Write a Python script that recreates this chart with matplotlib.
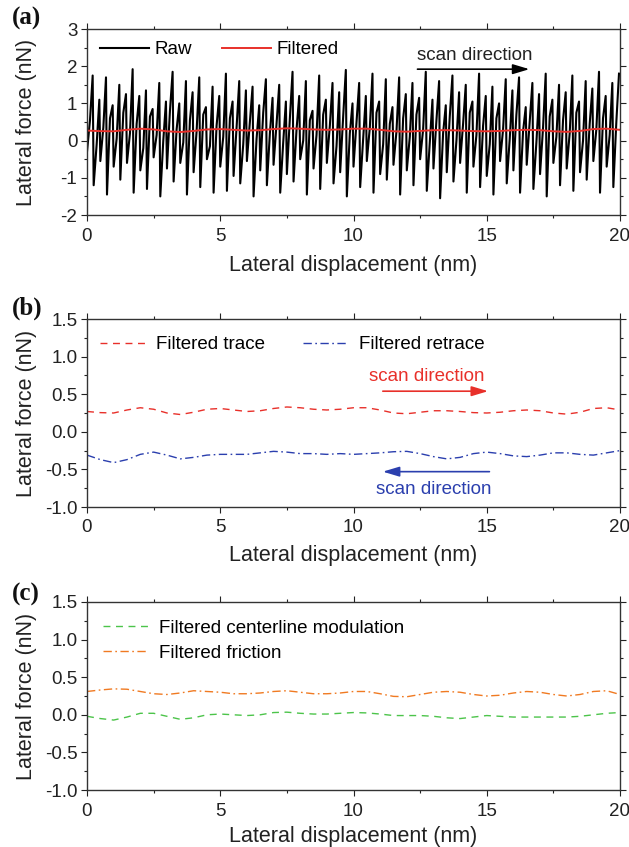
import matplotlib
matplotlib.use("Agg")
import matplotlib.pyplot as plt
import numpy as np
from matplotlib.ticker import MultipleLocator

plt.rcParams['font.family'] = ['Liberation Sans', 'DejaVu Sans']

# ---------------- data ----------------
x_filt = [0.0, 0.5, 1.0, 1.5, 2.0, 2.5, 3.0, 3.5, 4.0, 4.5, 5.0, 5.5, 6.0, 6.5, 7.0, 7.5, 8.0, 8.5, 9.0, 9.5,
          10.0, 10.5, 11.0, 11.5, 12.0, 12.5, 13.0, 13.5, 14.0, 14.5, 15.0, 15.5, 16.0, 16.5, 17.0, 17.5,
          18.0, 18.5, 19.0, 19.5, 20.0]

filtered_trace = [0.27, 0.255, 0.25, 0.29, 0.32, 0.30, 0.25, 0.23, 0.26, 0.30, 0.31, 0.29, 0.27, 0.28, 0.31,
                  0.33, 0.32, 0.30, 0.29, 0.30, 0.32, 0.32, 0.29, 0.25, 0.24, 0.26, 0.28, 0.28, 0.27, 0.255,
                  0.25, 0.26, 0.28, 0.29, 0.28, 0.25, 0.235, 0.26, 0.31, 0.32, 0.29]

filtered_retrace = [-0.31, -0.37, -0.41, -0.37, -0.30, -0.27, -0.31, -0.36, -0.34, -0.31, -0.30, -0.30, -0.30,
                    -0.28, -0.26, -0.27, -0.29, -0.29, -0.30, -0.29, -0.30, -0.29, -0.28, -0.265, -0.26, -0.29,
                    -0.33, -0.36, -0.34, -0.29, -0.27, -0.29, -0.32, -0.33, -0.31, -0.28, -0.28, -0.30, -0.31,
                    -0.28, -0.25]

filtered_friction = [0.31, 0.33, 0.345, 0.34, 0.31, 0.28, 0.27, 0.29, 0.32, 0.31, 0.30, 0.28, 0.28, 0.29, 0.31,
                     0.32, 0.30, 0.28, 0.28, 0.29, 0.31, 0.31, 0.28, 0.245, 0.24, 0.27, 0.30, 0.31, 0.30, 0.27,
                     0.25, 0.26, 0.29, 0.31, 0.30, 0.27, 0.25, 0.27, 0.31, 0.32, 0.27]

filtered_centerline = [-0.02, -0.05, -0.07, -0.03, 0.02, 0.02, -0.02, -0.06, -0.04, 0.0, 0.01, 0.0, -0.01, 0.0,
                       0.03, 0.035, 0.02, 0.01, 0.01, 0.02, 0.03, 0.025, 0.01, -0.01, -0.01, -0.01, -0.02, -0.04,
                       -0.05, -0.03, -0.01, -0.02, -0.03, -0.03, -0.03, -0.03, -0.03, -0.02, 0.0, 0.02, 0.03]

# raw stick-slip signal: trough, shoulder and peak for each lattice period (80 periods over 20 nm)
raw_peaks = [1.75, 1.10, 1.70, 0.95, 1.50, 1.25, 1.92, 1.20, 1.35, 0.85, 1.55, 1.05, 1.85, 1.00, 1.60, 1.30,
             1.70, 0.90, 1.45, 1.20, 1.80, 1.05, 1.60, 1.35, 1.45, 0.95, 1.65, 1.15, 1.50, 1.05, 1.85, 1.20,
             1.60, 0.80, 1.75, 1.10, 1.55, 1.30, 1.90, 1.00, 1.55, 1.20, 1.80, 1.05, 1.65, 0.90, 1.70, 1.25,
             1.55, 1.15, 1.85, 1.10, 1.60, 0.95, 1.75, 1.30, 1.50, 1.05, 1.80, 1.20, 1.45, 1.00, 1.65, 1.35,
             1.70, 0.90, 1.55, 1.25, 1.80, 1.10, 1.50, 1.30, 1.75, 1.05, 1.60, 1.40, 1.85, 1.20, 1.55, 1.80]
raw_mid = [0.55, -0.10, 0.35, 0.60, 0.05, 0.75, 0.20, 0.45, -0.20, 0.65, 0.15, 0.00, 0.80, 0.30, -0.05, 0.55,
           0.25, 0.70, -0.15, 0.40, 0.10, 0.60, 0.35, -0.10, 0.50, 0.05, 0.75, 0.20, 0.45, -0.05, 0.60, 0.30,
           0.00, 0.55, 0.15, 0.70, 0.40, -0.15, 0.65, 0.20, 0.50, 0.05, 0.35, 0.75, -0.10, 0.45, 0.25, 0.60,
           0.10, 0.70, 0.30, -0.05, 0.55, 0.20, 0.65, 0.00, 0.45, 0.75, 0.15, 0.40, -0.10, 0.60, 0.30, 0.05,
           0.70, 0.25, 0.50, -0.05, 0.35, 0.65, 0.10, 0.55, 0.20, 0.75, 0.00, 0.45, 0.30, 0.60, 0.15, 0.50]
raw_troughs = [-0.30, -1.20, -0.55, -1.45, -0.70, -1.05, -0.60, -1.40, -0.80, -1.30, -0.45, -1.50, -0.75, -1.10,
               -0.60, -1.45, -0.85, -1.25, -0.50, -1.40, -0.70, -1.35, -0.95, -1.15, -0.55, -1.50, -0.80, -1.20,
               -0.65, -1.40, -0.90, -1.10, -0.50, -1.45, -0.75, -1.30, -0.60, -1.15, -0.85, -1.50, -0.70, -1.25,
               -0.55, -1.40, -0.90, -1.05, -0.65, -1.45, -0.80, -1.20, -0.50, -1.35, -0.75, -1.55, -0.85, -1.10,
               -0.60, -1.40, -0.70, -1.25, -0.95, -1.45, -0.55, -1.15, -0.80, -1.40, -0.65, -1.30, -0.90, -1.50,
               -0.60, -1.20, -0.75, -1.35, -0.85, -1.05, -0.55, -1.40, -0.70, -1.25]

x_min, x_max = 0, 20

# build raw polyline from per-period troughs, shoulders and peaks
n_per = len(raw_peaks)
period = (x_max - x_min) / n_per
raw_x, raw_y = [], []
for i in range(n_per):
    raw_x += [x_min + i * period, x_min + (i + 0.45) * period, x_min + (i + 0.85) * period]
    raw_y += [raw_troughs[i], raw_mid[i], raw_peaks[i]]

RED = '#e8302a'
BLUE = '#2b3fae'
GREEN = '#4cc44a'
ORANGE = '#f07a22'
TXT = '#222222'

fig = plt.figure(figsize=(6.29, 8.47), dpi=100)
W, H = 629, 847
def axrect(l, t, r, b):
    return [l / W, 1 - b / H, (r - l) / W, (b - t) / H]

ax_a = fig.add_axes(axrect(87, 29, 620, 215))
ax_b = fig.add_axes(axrect(87, 319, 620, 507))
ax_c = fig.add_axes(axrect(87, 602, 620, 790))

tick_fs = 13.5
lab_fs = 15.5
leg_fs = 13.5

def style(ax, ymin, ymax, ymaj, ymin_step, xlab_y):
    ax.set_xlim(x_min, x_max)
    ax.set_ylim(ymin, ymax)
    ax.xaxis.set_major_locator(MultipleLocator(5))
    ax.xaxis.set_minor_locator(MultipleLocator(2.5))
    ax.yaxis.set_major_locator(MultipleLocator(ymaj))
    ax.yaxis.set_minor_locator(MultipleLocator(ymin_step))
    ax.tick_params(which='both', direction='out', top=True, right=True, labelsize=tick_fs, colors=TXT, width=0.8)
    ax.tick_params(which='major', length=4)
    ax.tick_params(axis='x', which='major', pad=5)
    ax.tick_params(axis='y', which='major', pad=3)
    ax.tick_params(which='minor', length=2.5)
    for s in ax.spines.values():
        s.set_linewidth(1.0)
        s.set_color('#333333')
    ax.set_xlabel('Lateral displacement (nm)', fontsize=lab_fs, color=TXT)
    ax.set_ylabel('Lateral force (nN)', fontsize=lab_fs, color=TXT)
    ax.xaxis.set_label_coords(0.5, xlab_y)
    ax.yaxis.set_label_coords(-0.093, 0.5)

arrow_kw = dict(arrowstyle='-|>,head_length=1.0,head_width=0.3', lw=1.2, mutation_scale=10,
                shrinkA=0, shrinkB=0)

# (a)
ax_a.plot(raw_x, raw_y, color='black', lw=1.5, label='Raw')
ax_a.plot(x_filt, filtered_trace, color=RED, lw=1.4, label='Filtered')
style(ax_a, -2, 3, 1, 0.5, -0.215)
ax_a.yaxis.set_major_formatter(plt.FuncFormatter(lambda v, p: '%d' % v))
ax_a.legend(loc='upper left', ncol=2, frameon=False, fontsize=leg_fs, handlelength=2.6,
            columnspacing=1.6, handletextpad=0.3, bbox_to_anchor=(0.0, 1.005), borderaxespad=0.3)
ax_a.text(14.55, 2.30, 'scan direction', fontsize=leg_fs, color=TXT, ha='center', va='center')
ax_a.annotate('', xy=(16.6, 1.92), xytext=(12.4, 1.92), arrowprops=dict(color='black', **arrow_kw))

# (b)
ax_b.plot(x_filt, filtered_trace, color=RED, lw=1.0, ls=(0, (5, 4)), label='Filtered trace')
ax_b.plot(x_filt, filtered_retrace, color=BLUE, lw=1.0, ls=(0, (6, 2.5, 1.2, 2.5)), label='Filtered retrace')
style(ax_b, -1.0, 1.5, 0.5, 0.25, -0.2)
ax_b.yaxis.set_major_formatter(plt.FuncFormatter(lambda v, p: '%.1f' % v))
ax_b.legend(loc='upper left', ncol=2, frameon=False, fontsize=leg_fs, handlelength=2.4,
            columnspacing=2.0, handletextpad=0.6, bbox_to_anchor=(0.0, 0.978), borderaxespad=0.3)
ax_b.text(12.76, 0.73, 'scan direction', fontsize=leg_fs, color=RED, ha='center', va='center')
ax_b.annotate('', xy=(15.05, 0.54), xytext=(11.1, 0.54), arrowprops=dict(color=RED, **arrow_kw))
ax_b.annotate('', xy=(11.1, -0.53), xytext=(15.1, -0.53), arrowprops=dict(color=BLUE, **arrow_kw))
ax_b.text(13.0, -0.77, 'scan direction', fontsize=leg_fs, color=BLUE, ha='center', va='center')

# (c)
ax_c.plot(x_filt, filtered_centerline, color=GREEN, lw=1.0, ls=(0, (5, 4)), label='Filtered centerline modulation')
ax_c.plot(x_filt, filtered_friction, color=ORANGE, lw=1.0, ls=(0, (6, 2.5, 1.2, 2.5)), label='Filtered friction')
style(ax_c, -1.0, 1.5, 0.5, 0.25, -0.19)
ax_c.yaxis.set_major_formatter(plt.FuncFormatter(lambda v, p: '%.1f' % v))
ax_c.legend(loc='upper left', ncol=1, frameon=False, fontsize=leg_fs, handlelength=2.4,
            handletextpad=0.6, labelspacing=0.4, bbox_to_anchor=(0.005, 0.975), borderaxespad=0.3)

# panel labels
for lbl, ypx in [('(a)', 18), ('(b)', 308), ('(c)', 594)]:
    fig.text(12 / W, 1 - ypx / H, lbl, fontsize=18, fontweight='bold', family='Liberation Serif',
             ha='left', va='center', color='#111111')

fig.savefig('out.png', dpi=100)
